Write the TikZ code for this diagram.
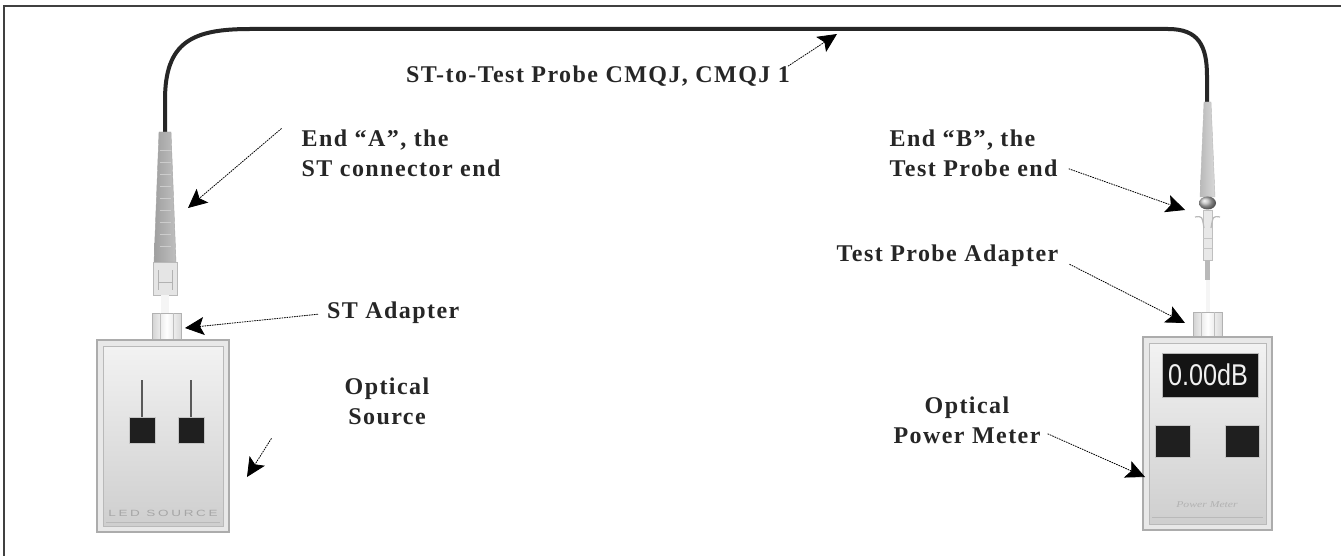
\documentclass[tikz,border=0pt]{standalone}
\usepackage{fontspec}
\setmainfont{Liberation Serif}
\newfontfamily\lblfont[LetterSpace=6]{Liberation Serif}
\newfontfamily\panelfont[LetterSpace=20]{Liberation Sans}
\newfontfamily\readfont{Liberation Sans}
\usetikzlibrary{arrows.meta,positioning}

\begin{document}
\begin{tikzpicture}
  [x=1pt,y=-1pt,
   every node/.style={inner sep=1pt},
   lbl/.style={font=\lblfont\bfseries\fontsize{24}{30}\selectfont,text=black!85},
   pointer/.style={line width=0.8pt,dash pattern=on 1.6pt off 0.9pt,
     -{Stealth[length=19pt,width=18pt,inset=4pt]}},
   cable/.style={line width=4pt,black!85,line cap=round},
   casing/.style={fill=gray!18,draw=gray!65,line width=1.6pt},
   panel/.style={top color=gray!10,bottom color=gray!38,draw=gray!55,line width=0.8pt},
   key/.style={fill=black!88,draw=gray!45,line width=0.8pt},
   sleeve/.style={left color=gray!35,right color=gray!30,middle color=white,draw=gray!60,line width=0.8pt}]

  \fill[white] (0,0) rectangle (1341,556);
  \useasboundingbox (0,0) rectangle (1341,556);
  \draw[black!75,line width=2pt] (4,556) -- (4,6) -- (1341,6);

  % patch cable
  \draw[cable] (165,132) -- (165,100) .. controls (165,42) and (192,29) .. (250,29)
    -- (1168,29) .. controls (1198,29) and (1207,45) .. (1207,76) -- (1207,102);

  % ST connector, end A
  \shade[left color=gray!75,right color=gray!50,draw=gray!70] (159,132) -- (171,132) -- (176,262) -- (154,262) -- cycle;
  \foreach \y in {150,162,...,246}
    \draw[gray!40,line width=0.8pt] (160,\y) -- (171,\y);
  \fill[gray!20,draw=gray!55] (153,262) rectangle (177,295);
  \draw[gray!60,line width=1pt] (158,270) -- (158,290) (172,270) -- (172,290) (158,282) -- (172,282);
  \fill[gray!8] (161,295) rectangle (169,313);
  \shade[sleeve] (152,313) rectangle (181,340);
  \draw[gray!50] (160,313) -- (160,340) (173,313) -- (173,340);

  % optical source
  \draw[casing] (97,340) rectangle (229,532);
  \shade[panel] (103,346) rectangle (223,526);
  \draw[gray!55] (106,522) -- (220,522);
  \draw[black!65,line width=2pt] (142,380) -- (142,417) (191,380) -- (191,417);
  \draw[key] (129,417) rectangle (155,443);
  \draw[key] (178,417) rectangle (204,443);
  \node (ledsrc) at (163,513) {\scalebox{1.5}[1]{\panelfont\fontsize{9}{9}\selectfont\color{gray!70}LED SOURCE}};

  % test probe, end B
  \shade[left color=gray!55,right color=gray!30,draw=gray!55] (1204,102) -- (1211,102) -- (1215,197) -- (1200,197) -- cycle;
  \shade[ball color=gray!55] (1207.5,203) ellipse (8.5 and 6.5);
  \fill[gray!18,draw=gray!50] (1203,210) rectangle (1212,260);
  \draw[gray!55,line width=1.2pt] (1195,217) .. controls (1202,216) .. (1204,228);
  \draw[gray!55,line width=1.2pt] (1220,217) .. controls (1213,216) .. (1211,228);
  \draw[gray!45] (1203,238) -- (1212,238) (1203,248) -- (1212,248);
  \fill[gray!55] (1205,260) rectangle (1210,280);
  \fill[gray!8] (1206,280) rectangle (1210,312);
  \shade[sleeve] (1193,312) rectangle (1222,338);
  \draw[gray!50] (1201,312) -- (1201,338) (1214,312) -- (1214,338);

  % power meter
  \draw[casing] (1143,337) rectangle (1272,530);
  \shade[panel] (1149,343) rectangle (1266,524);
  \fill[black!92,draw=gray!55] (1162,353) rectangle (1258,397);
  \node[text=gray!12] (readout) at (1208,375)
    {\scalebox{0.84}[1]{\readfont\fontsize{30}{30}\selectfont 0.00dB}};
  \draw[key] (1155,425) rectangle (1190,457);
  \draw[key] (1225,425) rectangle (1259,457);
  \draw[gray!55] (1152,517) -- (1263,517);
  \node (pmtag) at (1207,505) {\scalebox{1.3}[1]{\itshape\fontsize{9}{9}\selectfont\color{gray!60}Power Meter}};

  % labels
  \node[lbl,anchor=base east] (cablelbl) at (791,83) {ST-to-Test Probe CMQJ, CMQJ 1};
  \node[lbl,anchor=north west,align=left] (endA) at (300.5,128.5) {End “A”, the\\ST connector end};
  \node[lbl,anchor=base west] (stadp) at (326,318) {ST Adapter};
  \node[lbl,anchor=north,align=center] (osrc) at (387,377) {Optical\\Source};
  \node[lbl,anchor=north west,align=left] (endB) at (888.5,128.5) {End “B”, the\\Test Probe end};
  \node[lbl,anchor=base west] (tpa) at (835.5,261) {Test Probe Adapter};
  \node[lbl,anchor=north,align=center] (opm) at (967,395.5) {Optical\\Power Meter};

  % pointer ends
  \coordinate (tCable) at ([shift={(-3,1)}]cablelbl.north east);
  \coordinate (tA) at ([shift={(-19,0)}]endA.north west);
  \coordinate (tST) at ([shift={(-8,2)}]stadp.west);
  \coordinate (tSrc) at ([shift={(-72,12)}]osrc.south west);
  \coordinate (tB) at ([shift={(10,-9)}]endB.south east);
  \coordinate (tTPA) at ([shift={(10,9)}]tpa.east);
  \coordinate (tOPM) at ([shift={(6,-11)}]opm.south east);

  \coordinate (cableTop) at (837,34);
  \coordinate (stBoot) at (188,208);
  \coordinate (stSleeve) at (185,328);
  \coordinate (srcCase) at (247,477);
  \coordinate (probeTip) at (1185,210);
  \coordinate (probeSleeve) at (1185,323);
  \coordinate (meterCase) at (1145,477);

  \foreach \from/\to in {tCable/cableTop,tA/stBoot,tST/stSleeve,tSrc/srcCase,
                         tB/probeTip,tTPA/probeSleeve,tOPM/meterCase}
    \draw[pointer] (\from) -- (\to);

\end{tikzpicture}
\end{document}
